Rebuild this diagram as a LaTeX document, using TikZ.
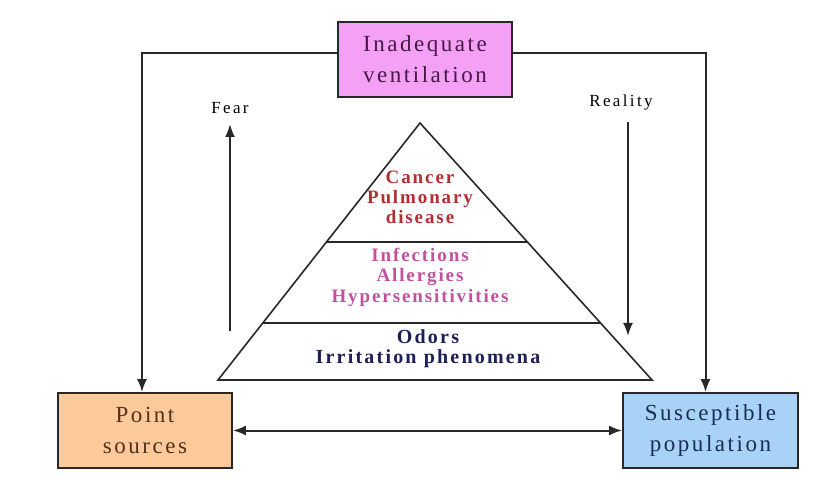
\documentclass[tikz,border=0pt]{standalone}
\usepackage{fontspec}
\setmainfont{Liberation Serif}
\newfontfamily\boxfont[LetterSpace=11]{Liberation Serif}
\newfontfamily\tierfont[LetterSpace=10]{Liberation Serif}
\newfontfamily\lowfont[LetterSpace=11]{Liberation Serif}
\newfontfamily\sidefont[LetterSpace=14]{Liberation Serif}
\usetikzlibrary{arrows.meta,calc}

\definecolor{ventfill}{RGB}{244,160,244}
\definecolor{srcfill}{RGB}{251,201,154}
\definecolor{popfill}{RGB}{168,210,247}
\definecolor{edgegray}{RGB}{40,40,40}
\definecolor{venttext}{RGB}{70,25,70}
\definecolor{srctext}{RGB}{80,50,25}
\definecolor{poptext}{RGB}{25,45,80}
\definecolor{tiertop}{RGB}{180,45,50}
\definecolor{tiermid}{RGB}{195,80,160}
\definecolor{tierlow}{RGB}{30,30,90}

\tikzset{
  factorbox/.style={draw=edgegray, line width=1.8pt, minimum width=174pt,
    minimum height=75pt, inner sep=0pt, align=center,
    font=\boxfont\fontsize{23}{31}\selectfont},
  tierlabel/.style={align=center, inner sep=0pt,
    font=\tierfont\bfseries\fontsize{19}{20}\selectfont},
  sidelabel/.style={inner sep=0pt, font=\sidefont\fontsize{17}{18}\selectfont},
  tip/.tip={Latex[length=13pt,width=10pt]},
  flow/.style={draw=edgegray, line width=2pt, -tip},
  pyr/.style={draw=edgegray, line width=1.6pt, line join=miter}
}

\begin{document}
\begin{tikzpicture}[x=1pt,y=-1pt]
  \useasboundingbox (0,0) rectangle (817,478);

  % factor boxes
  \node[factorbox, fill=ventfill, text=venttext] (vent) at (425,59.5)
    {Inadequate\\ventilation};
  \node[factorbox, fill=srcfill, text=srctext] (src) at (145,430.5)
    {Point\\sources};
  \node[factorbox, fill=popfill, text=poptext, minimum width=175pt] (pop) at (710.5,430.5)
    {Susceptible\\population};

  % pyramid of health effects
  \coordinate (apex) at (420,123);
  \coordinate (bl) at (218,380);
  \coordinate (br) at (652,380);
  \draw[pyr] (apex) -- (bl) -- (br) -- cycle;
  \draw[pyr] ($(apex)!{119/257}!(bl)$) -- ($(apex)!{119/257}!(br)$);
  \draw[pyr] ($(apex)!{200/257}!(bl)$) -- ($(apex)!{200/257}!(br)$);

  \node[tierlabel, text=tiertop] (top) at (420,197)
    {Cancer\\Pulmonary\\disease};
  \node[tierlabel, text=tiermid, font=\tierfont\bfseries\fontsize{19}{20.5}\selectfont] (mid) at (420,277)
    {Infections\\Allergies\\Hypersensitivities};
  \node[tierlabel, text=tierlow, font=\lowfont\bfseries\fontsize{20}{20}\selectfont] (low) at (428,349)
    {Odors\\Irritation phenomena};

  % perception axes
  \node[sidelabel] (fear) at (230,108) {Fear};
  \node[sidelabel] (real) at (621,102) {Reality};
  \coordinate (fearfoot) at (230,331);
  \coordinate (realfoot) at (628,336);
  \draw[flow] (fearfoot) -- (fear.south |- 0,124);
  \draw[flow] (real.south -| 628,0) ++(0,12) -- (realfoot);

  % connectors
  \draw[flow] ([yshift=6.5pt]vent.west) -| ([xshift=-3pt]src.north);
  \draw[flow] ([yshift=6.5pt]vent.east) -| ([xshift=-5pt]pop.north);
  \draw[flow, tip-tip] (src.east) -- (pop.west);
\end{tikzpicture}
\end{document}
